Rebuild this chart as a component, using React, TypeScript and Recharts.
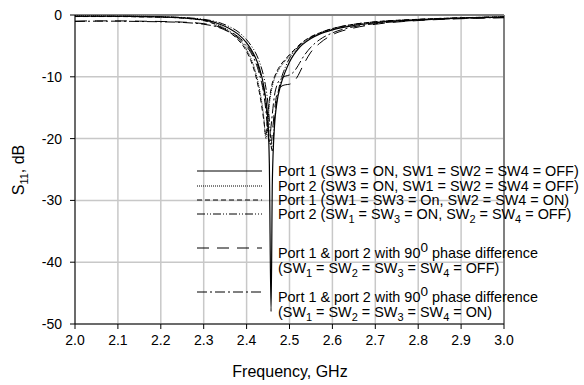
import React from 'react';
import { LineChart, Line, XAxis, YAxis, CartesianGrid, ReferenceLine } from 'recharts';

// frequency points (GHz), denser around the resonance
const freq = [2.0, 2.05, 2.1, 2.15, 2.2, 2.25, 2.3, 2.33, 2.36, 2.38, 2.4, 2.41, 2.42, 2.43, 2.44, 2.445, 2.45, 2.453, 2.457, 2.46, 2.465, 2.47, 2.48, 2.49, 2.5, 2.51, 2.52, 2.53, 2.55, 2.57, 2.6, 2.65, 2.7, 2.8, 2.9, 3.0];

// S11 in dB for each configuration
const p1Sw3On = [-0.2, -0.2, -0.2, -0.25, -0.3, -0.45, -0.8, -1.3, -2.2, -3.1, -4.5, -5.5, -6.8, -8.6, -11.5, -13.8, -17.5, -24, -48, -27, -18, -14.5, -11.2, -9.2, -7.6, -6.4, -5.5, -4.8, -3.8, -3.1, -2.4, -1.7, -1.25, -0.8, -0.5, -0.35];
const p2Sw3On = [-0.15, -0.15, -0.2, -0.2, -0.3, -0.45, -0.85, -1.5, -2.6, -3.8, -5.6, -7, -9, -12, -16.5, -20, -17, -14.5, -12.5, -11.5, -10.3, -9.5, -8.3, -7.4, -6.6, -5.9, -5.2, -4.6, -3.7, -3.0, -2.3, -1.6, -1.2, -0.75, -0.5, -0.3];
const p1Sw13On = [-0.25, -0.25, -0.25, -0.3, -0.35, -0.5, -0.9, -1.6, -2.8, -4, -5.9, -7.4, -9.5, -12.6, -17, -19.5, -16, -13.8, -12, -11, -10, -9.2, -8, -7.2, -6.4, -5.7, -5, -4.4, -3.5, -2.9, -2.2, -1.5, -1.1, -0.7, -0.45, -0.3];
const p2Sw13On = [-0.2, -0.2, -0.2, -0.25, -0.3, -0.4, -0.7, -1.1, -1.9, -2.7, -4, -4.9, -6, -7.6, -10, -11.8, -14.5, -17, -21, -22, -17, -14, -10.5, -8.5, -7, -6, -5.2, -4.5, -3.6, -2.9, -2.2, -1.5, -1.1, -0.7, -0.45, -0.3];
const phaseOff = [-1, -0.95, -0.95, -1, -1.05, -1.15, -1.4, -1.8, -2.6, -3.5, -4.8, -5.8, -7.1, -9, -12, -14.5, -18, -20.5, -21, -19, -15.5, -13, -11.6, -11.3, -11.2, -10.8, -9.8, -8.4, -6, -4.6, -3.2, -2.1, -1.5, -0.9, -0.6, -0.45];
const phaseOn = [-1.05, -1, -1, -1.05, -1.1, -1.2, -1.5, -1.9, -2.8, -3.7, -5.1, -6.1, -7.5, -9.6, -12.8, -15.5, -19.5, -20.5, -18, -16, -13, -11.5, -10.3, -9.9, -9.7, -9.2, -8.2, -7, -5.2, -4, -2.9, -1.9, -1.4, -0.85, -0.55, -0.4];

const xTicks = [2.0, 2.1, 2.2, 2.3, 2.4, 2.5, 2.6, 2.7, 2.8, 2.9, 3.0];
const yTicks = [-50, -40, -30, -20, -10, 0];

// legend text: "_x" marks a subscript, "^x" a superscript
const legendRows = [
  ['Port 1 (SW3 = ON, SW1 = SW2 = SW4 = OFF)'],
  ['Port 2 (SW3 = ON, SW1 = SW2 = SW4 = OFF)'],
  ['Port 1 (SW1 = SW3 = On, SW2 = SW4 = ON)'],
  ['Port 2 (SW_1 = SW_3 = ON, SW_2 = SW_4 = OFF)'],
  ['Port 1 & port 2 with 90^0 phase difference', '(SW_1 = SW_2 = SW_3 = SW_4 = OFF)'],
  ['Port 1 & port 2 with 90^0 phase difference', '(SW_1 = SW_2 = SW_3 = SW_4 = ON)'],
];

const data = freq.map((f, i) => ({
  f,
  a: p1Sw3On[i],
  b: p2Sw3On[i],
  c: p1Sw13On[i],
  d: p2Sw13On[i],
  e: phaseOff[i],
  g: phaseOn[i],
}));

const FONT = 'Liberation Sans, Arial, sans-serif';

const series = [
  { key: 'a', dash: undefined, w: 1.2 },
  { key: 'b', dash: '1 1', w: 1 },
  { key: 'c', dash: '5 3', w: 1 },
  { key: 'd', dash: '8 2 1 2 1 2', w: 1 },
  { key: 'e', dash: '12 8', w: 1 },
  { key: 'g', dash: '10 3 2 3', w: 1 },
];

function RichText({ x, y, s }: { x: number; y: number; s: string }) {
  const parts = s.split(/([_^]\d)/).filter((p) => p !== '');
  let shift = 0;
  return (
    <text x={x} y={y}>
      {parts.map((p, i) => {
        if (p[0] === '_' || p[0] === '^') {
          const target = p[0] === '_' ? 4 : -6;
          const dy = target - shift;
          shift = target;
          return <tspan key={i} dy={dy} fontSize={p[0] === '_' ? 11 : 13.5}>{p.slice(1)}</tspan>;
        }
        const dy = -shift;
        shift = 0;
        return <tspan key={i} dy={dy}>{p}</tspan>;
      })}
    </text>
  );
}

export default function App() {
  const lineY = [171, 186, 200, 214, 248, 292];
  const textY = [176, 191, 205, 219, 258, 302];
  return (
    <div style={{ position: 'absolute', left: 0, top: 0, width: 584, height: 385, background: '#fff' }}>
      <LineChart width={584} height={385} data={data} margin={{ top: 15, right: 80, left: 0, bottom: 0 }}>
        <CartesianGrid stroke="#c8c8c8" strokeWidth={1.5} />
        <XAxis
          dataKey="f"
          type="number"
          domain={[2, 3]}
          ticks={xTicks}
          tickFormatter={(v: number) => v.toFixed(1)}
          height={61}
          stroke="#000"
          tickSize={5}
          tickMargin={6}
          tick={{ fill: '#000', fontSize: 14, fontFamily: FONT }}
        />
        <YAxis
          type="number"
          domain={[-50, 0]}
          ticks={yTicks}
          width={75}
          stroke="#000"
          tickSize={5}
          tickMargin={8}
          tick={{ fill: '#000', fontSize: 14, fontFamily: FONT }}
        />
        <ReferenceLine y={0} stroke="#808080" strokeWidth={2} />
        <ReferenceLine x={3} stroke="#808080" strokeWidth={2} />
        {series.map((s) => (
          <Line
            key={s.key}
            dataKey={s.key}
            type="monotone"
            stroke="#000"
            strokeWidth={s.w}
            strokeDasharray={s.dash}
            dot={false}
            isAnimationActive={false}
          />
        ))}
      </LineChart>
      <svg
        width={584}
        height={385}
        style={{ position: 'absolute', left: 0, top: 0, pointerEvents: 'none' }}
        fontFamily={FONT}
      >
        <text x={290} y={377} textAnchor="middle" fontSize={16}>Frequency, GHz</text>
        <text transform="translate(24,170) rotate(-90)" textAnchor="middle" fontSize={16}>
          S<tspan dy={4} fontSize={11}>11</tspan><tspan dy={-4}>, dB</tspan>
        </text>
        {series.map((s, i) => (
          <line key={s.key} x1={197} x2={262} y1={lineY[i]} y2={lineY[i]} stroke="#000" strokeWidth={1} strokeDasharray={s.dash} />
        ))}
        <g fontSize={14.4}>
          {legendRows.map((row, i) =>
            row.map((s, j) => <RichText key={`${i}-${j}`} x={278} y={textY[i] + j * 15} s={s} />)
          )}
        </g>
      </svg>
    </div>
  );
}
